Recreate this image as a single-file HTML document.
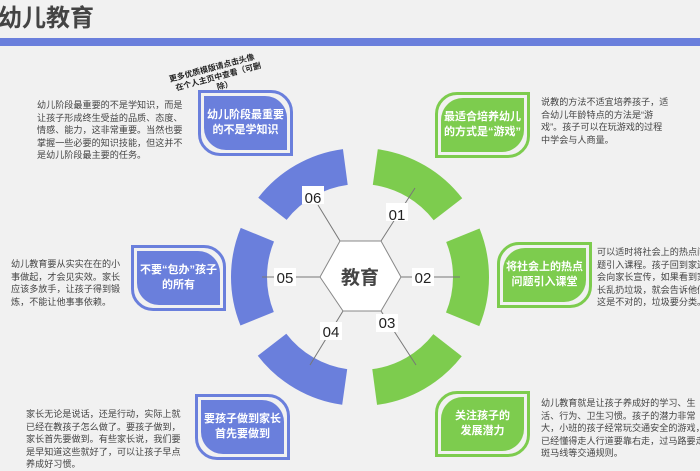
<!DOCTYPE html>
<html><head><meta charset="utf-8"><style>
body{margin:0;width:700px;height:470px;background:#f1f1f1;position:relative;overflow:hidden;font-family:"Liberation Sans","Noto Sans CJK SC",sans-serif}
.t{position:absolute;font-size:9.1px;line-height:12.6px;color:#444;white-space:nowrap}
.box{position:absolute;width:95px;height:66px;box-sizing:border-box;border:3px solid;display:flex;align-items:center;justify-content:center;text-align:center;color:#fff;font-weight:bold;font-size:11px;line-height:15px;white-space:nowrap}
.bi{position:absolute;inset:3px;border-radius:inherit}
.bx{position:relative;z-index:1}
.b{border-color:#6a7fdc;background:#f1f1f1}.b .bi{background:#6a7fdc}
.g{border-color:#7dcc4e;background:#f1f1f1}.g .bi{background:#7dcc4e}
.l{border-radius:22px 0 22px 0}.r{border-radius:0 22px 0 22px}
</style></head><body>
<div style="position:absolute;left:-2px;top:-2px;font-size:24px;font-weight:bold;color:#444">幼儿教育</div>
<div style="position:absolute;left:0;top:38px;width:700px;height:8px;background:#6a7fdc"></div>
<svg width="700" height="470" style="position:absolute;left:0;top:0">
<g transform="translate(360,277)" fill="none" stroke-width="36">
<circle r="111" stroke="#7dcc4e" stroke-dasharray="86 611" transform="rotate(-82)"/>
<circle r="111" stroke="#7dcc4e" stroke-dasharray="86 611" transform="rotate(-22)"/>
<circle r="111" stroke="#7dcc4e" stroke-dasharray="86 611" transform="rotate(38)"/>
<circle r="111" stroke="#6a7fdc" stroke-dasharray="86 611" transform="rotate(98)"/>
<circle r="111" stroke="#6a7fdc" stroke-dasharray="86 611" transform="rotate(158)"/>
<circle r="111" stroke="#6a7fdc" stroke-dasharray="86 611" transform="rotate(218)"/>
</g>
<g stroke="#777" stroke-width="1">
<line x1="320" y1="277" x2="262" y2="277"/><line x1="401" y1="277" x2="460" y2="277"/>
<line x1="340" y1="241" x2="318" y2="205"/><line x1="381" y1="241" x2="415" y2="188"/>
<line x1="343" y1="311" x2="310" y2="365"/><line x1="381" y1="311" x2="416" y2="365"/>
</g>
<polygon points="320,277 340,241 381,241 401,277 381,311 343,311" fill="#fff" stroke="#888" stroke-width="1"/>
<text x="360" y="284" text-anchor="middle" font-size="19" font-weight="bold" fill="#444" font-family="Liberation Sans,Noto Sans CJK SC,sans-serif">教育</text>
<g font-size="15" fill="#222" font-family="Liberation Sans,sans-serif" text-anchor="middle">
<rect x="302" y="186" width="22" height="18" fill="#fff"/><text x="313" y="203">06</text>
<rect x="386" y="203" width="22" height="18" fill="#fff"/><text x="397" y="220">01</text>
<rect x="412" y="268" width="22" height="18" fill="#fff"/><text x="423" y="283">02</text>
<rect x="376" y="314" width="22" height="18" fill="#fff"/><text x="387" y="328">03</text>
<rect x="320" y="322" width="22" height="18" fill="#fff"/><text x="331" y="337">04</text>
<rect x="274" y="268" width="22" height="18" fill="#fff"/><text x="285" y="283">05</text>
</g>
<text transform="translate(170,82) rotate(-15)" font-size="8" font-weight="bold" fill="#222" font-family="Liberation Sans,Noto Sans CJK SC,sans-serif"><tspan x="0" y="0">更多优质模版请点击头像</tspan><tspan x="4" y="10">在个人主页中查看（可删</tspan><tspan x="44" y="20">除）</tspan></text>
</svg>
<div class="box b r" style="left:198px;top:90px"><div class="bi"></div><div class="bx">幼儿阶段最重要<br>的不是学知识</div></div>
<div class="box g l" style="left:435px;top:92px"><div class="bi"></div><div class="bx">最适合培养幼儿<br>的方式是“游戏”</div></div>
<div class="box b r" style="left:131px;top:245px"><div class="bi"></div><div class="bx">不要“包办”孩子<br>的所有</div></div>
<div class="box g l" style="left:497px;top:242px"><div class="bi"></div><div class="bx">将社会上的热点<br>问题引入课堂</div></div>
<div class="box b r" style="left:195px;top:394px"><div class="bi"></div><div class="bx">要孩子做到家长<br>首先要做到</div></div>
<div class="box g l" style="left:435px;top:391px"><div class="bi"></div><div class="bx">关注孩子的<br>发展潜力</div></div>
<div class="t" style="left:37px;top:99px">幼儿阶段最重要的不是学知识，而是<br>让孩子形成终生受益的品质、态度、<br>情感、能力，这非常重要。当然也要<br>掌握一些必要的知识技能，但这并不<br>是幼儿阶段最主要的任务。</div>
<div class="t" style="left:541px;top:96px">说教的方法不适宜培养孩子，适<br>合幼儿年龄特点的方法是“游<br>戏”。孩子可以在玩游戏的过程<br>中学会与人商量。</div>
<div class="t" style="left:11px;top:258px">幼儿教育要从实实在在的小<br>事做起，才会见实效。家长<br>应该多放手，让孩子得到锻<br>炼，不能让他事事依赖。</div>
<div class="t" style="left:597px;top:246px">可以适时将社会上的热点问<br>题引入课程。孩子回到家还<br>会向家长宣传，如果看到家<br>长乱扔垃圾，就会告诉他们<br>这是不对的，垃圾要分类。</div>
<div class="t" style="left:26px;top:408px">家长无论是说话，还是行动，实际上就<br>已经在教孩子怎么做了。要孩子做到，<br>家长首先要做到。有些家长说，我们要<br>是早知道这些就好了，可以让孩子早点<br>养成好习惯。</div>
<div class="t" style="left:541px;top:397px">幼儿教育就是让孩子养成好的学习、生<br>活、行为、卫生习惯。孩子的潜力非常<br>大，小班的孩子经常玩交通安全的游戏，<br>已经懂得走人行道要靠右走，过马路要走<br>斑马线等交通规则。</div>
</body></html>
